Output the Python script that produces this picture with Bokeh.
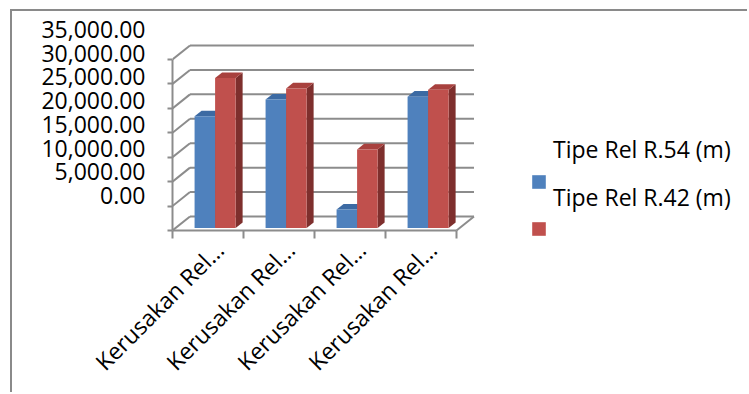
import numpy as np
from math import pi
from bokeh.plotting import figure
from bokeh.models import (Range1d, LinearAxis, FixedTicker, NumeralTickFormatter,
                          Legend, LegendItem, ColumnDataSource)
from bokeh.embed import file_html
from bokeh.resources import INLINE

# ---------------- data ----------------
categories = ["Kerusakan Rel…", "Kerusakan Rel…", "Kerusakan Rel…", "Kerusakan Rel…"]
series_names = ["Tipe Rel R.54 (m)", "Tipe Rel R.42 (m)"]
r54_values = [22900, 26300, 3800, 26900]
r42_values = [30700, 28600, 16100, 28300]
y_ticks = [0, 5000, 10000, 15000, 20000, 25000, 30000, 35000]

# ---------------- style / layout ----------------
FONT = "Open Sans"
FONT_SIZE = "23px"
GRID = "#8c8c8c"
BLUE = ["#4f81bd", "#3c6aa3", "#2f5687"]   # front, top, side
RED = ["#c0504d", "#a8413e", "#7e2f2d"]
WIN_W, WIN_H = 749, 394
OX, OY = 12, 11                              # canvas offset inside the bordered chart area
W, H = WIN_W - OX, WIN_H - OY
FLOOR = 230 - OY                             # canvas y of the front floor edge (value 0)
FL, FR, FT, FB = 172 - OX, 745 - OX, 20 - OY, 238 - OY   # frame edges (canvas px)
PXC = 71.0                                   # px per category
PXV = 4.886 / 1000.0                         # px per value unit
DX = 17.5 / PXC                              # 3D depth offset (x, data units)
DY = 14.0 / PXV                              # 3D depth offset (y, data units)
F0 = 0.17                                    # depth fraction of bar front
FD = 0.40                                    # bar depth fraction
BAR_W = 0.289
GROUP_C = 0.60

x_end = (FR - FL) / PXC
y_start = -(FB - FLOOR) / PXV
y_end = (FLOOR - FT) / PXV
# label axis mapping (labels sit offset from the gridlines, as in the original)
lab_px0, lab_px35 = 195.0 - OY, 29.0 - OY
lab_scale = (y_ticks[-1] - y_ticks[0]) / (lab_px0 - lab_px35)
lab_lo = -(FB - lab_px0) * lab_scale
lab_hi = (lab_px0 - FT) * lab_scale

p = figure(width=W, height=H, x_range=Range1d(0, x_end), y_range=Range1d(y_start, y_end),
           output_backend="svg", toolbar_location=None,
           min_border_left=FL, min_border_right=W - FR, min_border_top=FT,
           min_border_bottom=H - FB)
p.styles = {"margin-left": "10px", "margin-top": "9px",
            "border-left": "2px solid #8a8a8a", "border-top": "2px solid #8a8a8a"}
p.outline_line_color = None
p.xgrid.visible = False
p.ygrid.visible = False
p.background_fill_color = "white"
p.border_fill_color = "white"

ncat = len(categories)

# ---------------- 3D walls / floor / gridlines ----------------
gy = np.array(y_ticks, dtype=float)
p.segment(x0=np.zeros_like(gy), y0=gy, x1=np.full_like(gy, DX), y1=gy + DY,
          line_color=GRID, line_width=2)
p.segment(x0=np.full_like(gy, DX), y0=gy + DY, x1=np.full_like(gy, ncat + DX), y1=gy + DY,
          line_color=GRID, line_width=2)
p.segment(x0=[0, ncat], y0=[0, 0], x1=[ncat, ncat + DX], y1=[0, DY],
          line_color=GRID, line_width=2)

# ---------------- 3D bars ----------------
base = F0 * DY
ddx, ddy = FD * DX, FD * DY
front_renderers = []
for s, (vals, cols) in enumerate([(r54_values, BLUE), (r42_values, RED)]):
    v = np.array(vals, dtype=float)
    xc = np.arange(ncat) + GROUP_C + (s - 0.5) * BAR_W
    xl, xr = xc - BAR_W / 2, xc + BAR_W / 2
    top = base + v
    side_xs = [[a, a + ddx, a + ddx, a] for a in xr]
    side_ys = [[base, base + ddy, t + ddy, t] for t in top]
    p.patches(side_xs, side_ys, fill_color=cols[2], line_color=None)
    top_xs = [[a, b, b + ddx, a + ddx] for a, b in zip(xl, xr)]
    top_ys = [[t, t, t + ddy, t + ddy] for t in top]
    p.patches(top_xs, top_ys, fill_color=cols[1], line_color=None)
    src = ColumnDataSource(dict(x=xc, top=top, bottom=np.full(ncat, base)))
    r = p.vbar(x="x", top="top", bottom="bottom", width=BAR_W, source=src,
               fill_color=cols[0], line_color=None)
    front_renderers.append(r)

# ---------------- axes ----------------
xa = p.xaxis[0]
label_ticks = [round(i + 0.66, 3) for i in range(ncat)]
xa.ticker = FixedTicker(ticks=label_ticks, minor_ticks=list(range(ncat + 1)))
xa.bounds = (0, ncat)
xa.major_label_overrides = {t: c for t, c in zip(label_ticks, categories)}
xa.major_label_orientation = pi / 4
xa.major_tick_line_color = None
xa.major_tick_out = 0
xa.major_tick_in = 0
xa.minor_tick_line_color = GRID
xa.minor_tick_line_width = 2
xa.minor_tick_out = 0
xa.minor_tick_in = FB - FLOOR
xa.axis_line_color = None
xa.major_label_standoff = 7
xa.major_label_text_font = FONT
xa.major_label_text_font_size = FONT_SIZE
xa.major_label_text_color = "black"

ya = p.yaxis[0]
ya.ticker = FixedTicker(ticks=y_ticks)
ya.bounds = (y_ticks[0], y_ticks[-1])
ya.major_label_overrides = {t: "" for t in y_ticks}
ya.major_tick_out = 5
ya.major_tick_in = 0
ya.major_tick_line_color = GRID
ya.major_tick_line_width = 2
ya.minor_tick_line_color = None
ya.axis_line_color = GRID
ya.axis_line_width = 2
ya.major_label_standoff = 0

p.extra_y_ranges = {"lab": Range1d(lab_lo, lab_hi)}
la = LinearAxis(y_range_name="lab", ticker=FixedTicker(ticks=y_ticks),
                formatter=NumeralTickFormatter(format="0,0.00"),
                axis_line_color=None, major_tick_line_color=None,
                minor_tick_line_color=None, major_label_standoff=16,
                major_label_text_font=FONT, major_label_text_font_size=FONT_SIZE,
                major_label_text_color="black")
p.add_layout(la, "left")

# ---------------- legend (labels and keys offset as in the original) ----------------
leg_text = Legend(items=[LegendItem(label=n, renderers=[r]) for n, r in zip(series_names, front_renderers)],
                  location=(381, 25), glyph_width=0, glyph_height=20, label_height=20,
                  label_standoff=0, padding=0, margin=0, spacing=16,
                  border_line_color=None, background_fill_alpha=0,
                  label_text_font=FONT, label_text_font_size=FONT_SIZE, label_text_color="black")
leg_keys = Legend(items=[LegendItem(label="", renderers=[r]) for r in front_renderers],
                  location=(358, 1), glyph_width=17, glyph_height=17, label_height=17,
                  label_standoff=0, padding=0, margin=0, spacing=30,
                  border_line_color=None, background_fill_alpha=0,
                  label_text_font_size="1px")
p.add_layout(leg_text, "center")
p.add_layout(leg_keys, "center")

open("out.html", "w").write(file_html(p, INLINE))
